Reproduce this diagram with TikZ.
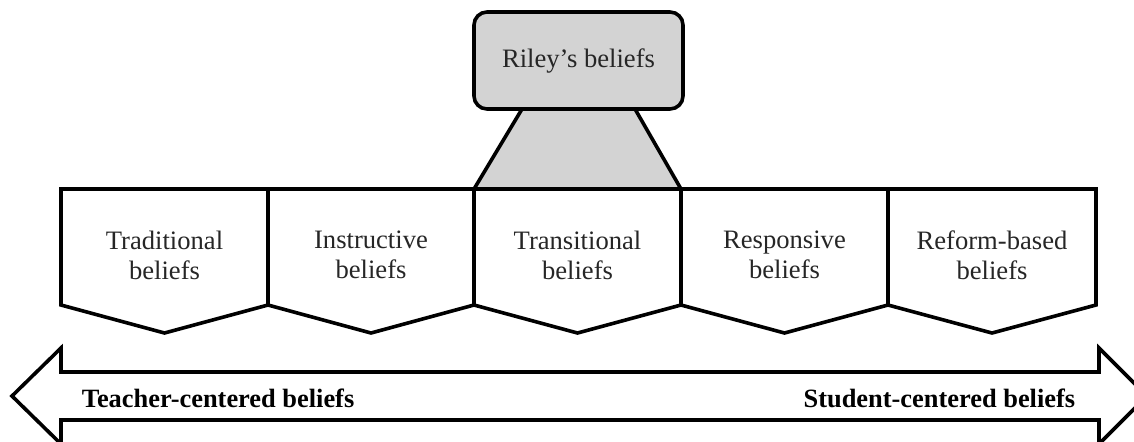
\documentclass[tikz,border=0pt]{standalone}
\usepackage{fontspec}
\setmainfont{Liberation Serif}
\definecolor{rileygray}{RGB}{211,211,211}
\begin{document}
\begin{tikzpicture}[x=0.5pt,y=-0.5pt,line width=1.8pt,line join=miter,
  lbl/.style={align=center,inner sep=0pt,font=\fontsize{13.3}{15}\selectfont,text=black!85},
  boldlbl/.style={inner sep=0pt,font=\fontsize{13.2}{15}\selectfont\bfseries},
  pent/.style={draw=black,fill=white}]
\useasboundingbox (0,0) rectangle (1134,441);
\clip (0,0) rectangle (1134,441);
% trapezoid connecting Riley's box to the transitional box
\fill[rileygray] (522,109) -- (474,189) -- (681,189) -- (635,109) -- cycle;
\draw (522,109) -- (474,189);
\draw (635,109) -- (681,189);
% pentagon boxes
\foreach \a/\b in {61/268,268/474,474/681,681/888,888/1096}{
  \path[pent] (\a,189) -- (\b,189) -- (\b,305) -- ({(\a+\b)/2},333) -- (\a,305) -- cycle;
}
\node[lbl] (trad) at (164.5,255) {Traditional\\beliefs};
\node[lbl] (instr) at (371,255) {Instructive\\beliefs};
\node[lbl] (trans) at (577.5,255) {Transitional\\beliefs};
\node[lbl] (resp) at (784.5,255) {Responsive\\beliefs};
\node[lbl] (reform) at (992,255) {Reform-based\\beliefs};
% Riley's box
\node[draw=black,fill=rileygray,rounded corners=6.5pt,minimum width=104.5pt,minimum height=48.5pt,
  lbl] (riley) at (578.5,60.5) {Riley’s beliefs};
% double arrow
\draw (12,396) -- (61,348) -- (61,372) -- (1099,372) -- (1099,348) -- (1147,396)
  -- (1099,444) -- (1099,420) -- (61,420) -- (61,444) -- cycle;
\node[boldlbl,anchor=west] (tc) at (80,398) {Teacher-centered beliefs};
\node[boldlbl,anchor=east] (sc) at (1077,398) {Student-centered beliefs};
\end{tikzpicture}
\end{document}
